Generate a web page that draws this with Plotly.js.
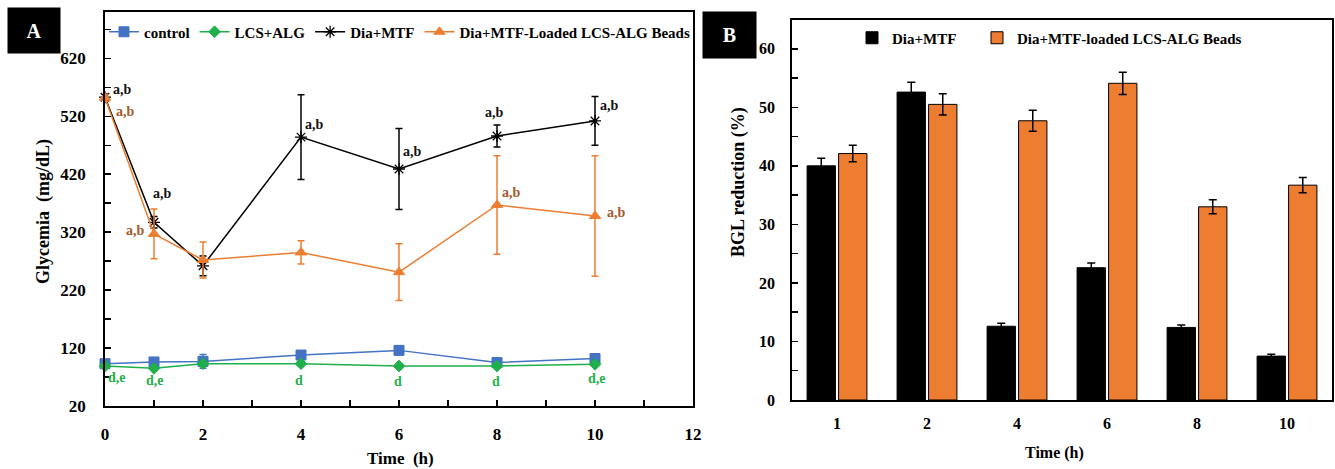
<!DOCTYPE html>
<html><head><meta charset="utf-8">
<script src="https://cdn.plot.ly/plotly-3.0.1.min.js"></script>
<style>html,body{margin:0;padding:0;background:#fff}#chart{width:1335px;height:469px}</style>
</head><body><div id="chart"></div>
<script>
// ---- Panel A data ----
const timeA = [0, 1, 2, 4, 6, 8, 10];
const controlMean = [93, 96, 97, 108, 116, 95, 102];
const controlErr = [5, 5, 12, 6, 7, 4, 7];
const lcsAlgMean = [89, 85, 93, 93, 89, 89, 92];
const lcsAlgErr = [3, 3, 3, 3, 3, 3, 3];
const diaMtfMean = [553, 337, 262, 484, 429, 486, 512];
const diaMtfErr = [6, 10, 17, 73, 70, 19, 42];
const beadsMean = [552, 317, 272, 285, 251, 367, 348];
const beadsErr = [6, 43, 31, 20, 49, 85, 104];
const diaMtfLabels = ['a,b', 'a,b', '', 'a,b', 'a,b', 'a,b', 'a,b'];
const beadsLabels = ['a,b', 'a,b', '', '', '', 'a,b', 'a,b'];
const lcsAlgLabels = ['d,e', 'd,e', '', 'd', 'd', 'd', 'd,e'];

// ---- Panel B data ----
const timeB = ['1', '2', '4', '6', '8', '10'];
const bglDiaMtf = [40.0, 52.6, 12.6, 22.6, 12.4, 7.5];
const bglDiaMtfErr = [1.3, 1.7, 0.5, 0.8, 0.4, 0.3];
const bglBeads = [42.1, 50.5, 47.7, 54.1, 33.0, 36.7];
const bglBeadsErr = [1.4, 1.8, 1.8, 1.9, 1.2, 1.3];

// ---- styling ----
const SERIF = '"Liberation Serif", "Times New Roman", serif';
const W = 1335, H = 469;
const px = v => v / W, py = v => 1 - v / H;
const C_BLUE = '#4472C4', C_GREEN = '#1FAF4B', C_BLACK = '#000000', C_ORANGE = '#ED7D31', C_BROWN = '#A8582A';

// label pixel shifts (style, not data)
const diaShift = [[17, 8], [8, 29], null, [13, 13], [13, 18], [-3, 23], [14, 15]];
const beadsShift = [[20, -14], [-19, 3], null, null, null, [14, 12], [21, 3]];
const lcsShift = [[12, -11], [1, -12], null, [-2, -17], [-1, -15], [-1, -15], [2, -14]];

function lineTrace(name, y, err, color, symbol, size, extra) {
  return Object.assign({
    type: 'scatter', mode: 'lines+markers', name: name, x: timeA, y: y,
    xaxis: 'x', yaxis: 'y', legend: 'legend', cliponaxis: false,
    line: {color: color, width: 1.5},
    marker: {color: color, symbol: symbol, size: size, line: {color: color, width: 1}},
    error_y: {type: 'data', array: err, visible: true, color: color, thickness: 1.5, width: 3.5}
  }, extra || {});
}

const traces = [
  lineTrace('control', controlMean, controlErr, C_BLUE, 'square', 10),
  lineTrace('LCS+ALG', lcsAlgMean, lcsAlgErr, C_GREEN, 'diamond', 9),
  lineTrace('Dia+MTF', diaMtfMean, diaMtfErr, C_BLACK, 'asterisk-open', 10,
    {marker: {color: C_BLACK, symbol: 'asterisk-open', size: 10, line: {color: C_BLACK, width: 1.3}}}),
  lineTrace('Dia+MTF-Loaded LCS-ALG Beads', beadsMean, beadsErr, C_ORANGE, 'triangle-up', 10),
  {
    type: 'bar', name: 'Dia+MTF', x: timeB, y: bglDiaMtf, xaxis: 'x2', yaxis: 'y2', legend: 'legend2',
    marker: {color: C_BLACK, line: {color: '#000', width: 1}},
    error_y: {type: 'data', array: bglDiaMtfErr, visible: true, color: '#000', thickness: 1.5, width: 4}
  },
  {
    type: 'bar', name: 'Dia+MTF-loaded LCS-ALG Beads', x: timeB, y: bglBeads, xaxis: 'x2', yaxis: 'y2', legend: 'legend3',
    marker: {color: C_ORANGE, line: {color: '#000', width: 1}},
    error_y: {type: 'data', array: bglBeadsErr, visible: true, color: '#000', thickness: 1.5, width: 4}
  }
];

const annotations = [];
function addLabels(labels, ys, shifts, color) {
  labels.forEach((t, i) => {
    if (!t) return;
    annotations.push({
      xref: 'x', yref: 'y', x: timeA[i], y: ys[i], text: t, showarrow: false,
      xshift: shifts[i][0], yshift: shifts[i][1],
      font: {family: SERIF, size: 14, weight: 'bold', color: color}
    });
  });
}
addLabels(diaMtfLabels, diaMtfMean, diaShift, '#111');
addLabels(beadsLabels, beadsMean, beadsShift, C_BROWN);
addLabels(lcsAlgLabels, lcsAlgMean, lcsShift, C_GREEN);

function paperText(text, x, y, size, angle) {
  annotations.push({xref: 'paper', yref: 'paper', x: px(x), y: py(y), xanchor: 'center', yanchor: 'middle',
    text: text, showarrow: false, textangle: angle || 0,
    font: {family: SERIF, size: size, weight: 'bold', color: '#000'}});
}
paperText('Glycemia  (mg/dL)', 43, 212, 18, -90);
paperText('Time  (h)', 400, 458, 17);
paperText('BGL reduction (%)', 738, 182, 18, -90);
paperText('Time (h)', 1054, 453, 16);

// panel letters
[['A', 34, 30.5, 52, 45], ['B', 729.5, 35, 53, 46]].forEach(([t, x, y, w, h]) => {
  annotations.push({xref: 'paper', yref: 'paper', x: px(x), y: py(y), xanchor: 'center', yanchor: 'middle',
    text: t, showarrow: false, bgcolor: '#000', width: w, height: h, borderpad: 0,
    font: {family: SERIF, size: 20, weight: 'bold', color: '#fff'}});
});

const tickFont = {family: SERIF, size: 17, weight: 'bold', color: '#000'};
const axisBase = {showline: true, linecolor: '#000', linewidth: 1.8, mirror: true, showgrid: false, zeroline: false,
  ticks: 'inside', ticklen: 6, tickwidth: 1.5, tickcolor: '#000', tickfont: tickFont};
const legendFont = {family: SERIF, size: 15, weight: 'bold', color: '#000'};

const layout = {
  width: W, height: H, margin: {l: 0, r: 0, t: 0, b: 0},
  paper_bgcolor: '#fff', plot_bgcolor: '#fff',
  bargap: 0.3, bargroupgap: 0.1, barmode: 'group',
  xaxis: Object.assign({}, axisBase, {domain: [px(105), px(693)], range: [0, 12], anchor: 'y',
    tick0: 0, dtick: 2, ticklabelstandoff: 12,
    minor: {ticks: 'inside', ticklen: 6, tickwidth: 1.5, tickcolor: '#000', dtick: 1, tick0: 0}}),
  yaxis: Object.assign({}, axisBase, {domain: [py(406), py(12)], range: [20, 700], anchor: 'x',
    tick0: 20, dtick: 100, ticklabelstandoff: 14,
    minor: {ticks: 'inside', ticklen: 6, tickwidth: 1.5, tickcolor: '#000', dtick: 50, tick0: 20}}),
  xaxis2: Object.assign({}, axisBase, {domain: [px(792), px(1332)], type: 'category', anchor: 'y2',
    ticks: '', ticklabelstandoff: 8, tickfont: Object.assign({}, tickFont, {size: 16})}),
  yaxis2: Object.assign({}, axisBase, {domain: [py(400), py(19.5)], range: [0, 65], anchor: 'x2',
    tick0: 0, dtick: 10, ticklabelstandoff: 12, tickfont: Object.assign({}, tickFont, {size: 16}),
    minor: {ticks: 'inside', ticklen: 6, tickwidth: 1.5, tickcolor: '#000', dtick: 5, tick0: 0}}),
  legend: {orientation: 'h', x: px(104), xanchor: 'left', y: py(32), yanchor: 'middle',
    bgcolor: 'rgba(0,0,0,0)', font: legendFont, itemwidth: 30},
  legend2: {orientation: 'h', x: px(852), xanchor: 'left', y: py(38), yanchor: 'middle',
    bgcolor: 'rgba(0,0,0,0)', font: legendFont, itemwidth: 30},
  legend3: {orientation: 'h', x: px(977), xanchor: 'left', y: py(38), yanchor: 'middle',
    bgcolor: 'rgba(0,0,0,0)', font: legendFont, itemwidth: 30},
  annotations: annotations,
  showlegend: true
};

Plotly.newPlot('chart', traces, layout, {displayModeBar: false, staticPlot: true});
</script></body></html>
